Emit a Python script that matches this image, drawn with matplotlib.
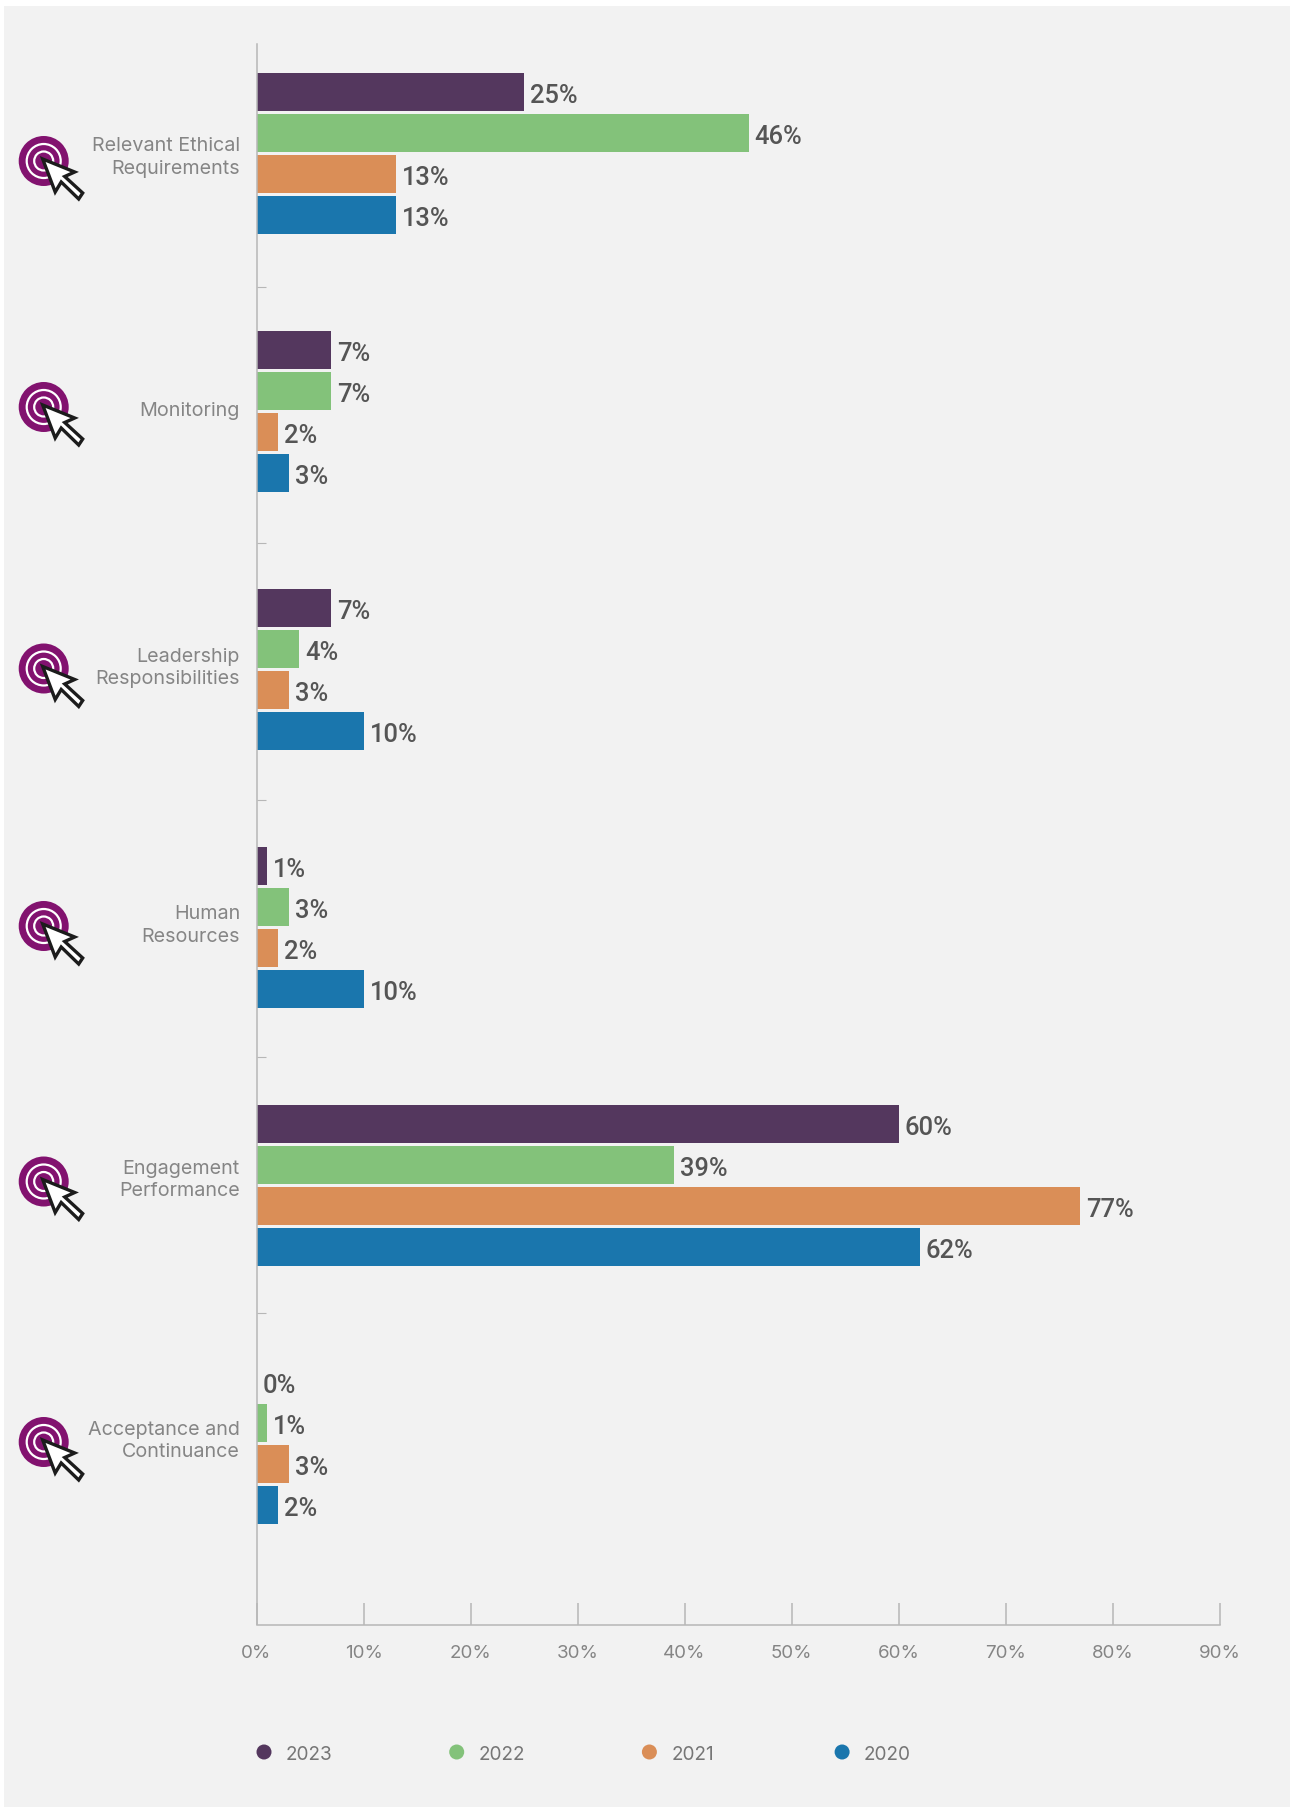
import matplotlib
matplotlib.use("Agg")
import matplotlib.pyplot as plt
from matplotlib.patches import Circle, Polygon, Rectangle

categories = ["Relevant Ethical\nRequirements", "Monitoring", "Leadership\nResponsibilities",
              "Human\nResources", "Engagement\nPerformance", "Acceptance and\nContinuance"]
years = ["2023", "2022", "2021", "2020"]
values_2023 = [25, 7, 7, 1, 60, 0]
values_2022 = [46, 7, 4, 3, 39, 1]
values_2021 = [13, 2, 3, 2, 77, 3]
values_2020 = [13, 3, 10, 10, 62, 2]
series = [values_2023, values_2022, values_2021, values_2020]
colors = ["#54375e", "#83c27a", "#da8e57", "#1a76ad"]
x_ticks = [0, 10, 20, 30, 40, 50, 60, 70, 80, 90]

W, H = 1290, 1807
AX_LEFT, AX_RIGHT, AX_TOP, AX_BOTTOM = 256.5, 1219.5, 44, 1624.5
FIRST_CENTER, GROUP_STEP = 154, 258
GREY = "#b7b7b7"
TEXT = "#858585"
px = 0.72  # one pixel in points at dpi=100

fig = plt.figure(figsize=(W / 100, H / 100), dpi=100, facecolor="white")

# pixel canvas for the panel, icons and legend
bg = fig.add_axes([0, 0, 1, 1])
bg.set_xlim(0, W)
bg.set_ylim(H, 0)
bg.axis("off")
bg.add_patch(Rectangle((4, 6), W - 4, H - 6, fc="#f2f2f2", ec="none"))

ax = fig.add_axes([AX_LEFT / W, 1 - AX_BOTTOM / H, (AX_RIGHT - AX_LEFT) / W, (AX_BOTTOM - AX_TOP) / H])
ax.patch.set_alpha(0)
ax.set_xlim(0, 90)
ax.set_ylim((AX_BOTTOM - FIRST_CENTER) / GROUP_STEP, (AX_TOP - FIRST_CENTER) / GROUP_STEP)

bar_h = 38 / GROUP_STEP
bar_step = 41 / GROUP_STEP
for i, vals in enumerate(series):
    ys = [c + (i - 1.5) * bar_step for c in range(len(categories))]
    ax.barh(ys, vals, height=bar_h, color=colors[i], linewidth=0, zorder=2)
    for y, v in zip(ys, vals):
        ax.annotate(f"{v}%", (v, y), xytext=(6 * px, -3.5 * px), textcoords="offset points",
                    ha="left", va="center", fontsize=18.4, family="Roboto", fontweight="medium",
                    color="#555555")

for s in ["top", "right"]:
    ax.spines[s].set_visible(False)
for s in ["left", "bottom"]:
    ax.spines[s].set_color(GREY)
    ax.spines[s].set_linewidth(1.1)

ax.set_xticks(x_ticks)
ax.set_xticklabels([f"{t}%" for t in x_ticks], fontsize=13.5, family="Inter", color=TEXT)
ax.tick_params(axis="x", direction="in", length=22 * px, width=1.1, color=GREY, pad=21 * px)

# the separators sit slightly tighter than the bar groups
ax.set_yticks([0.515 + k * 0.9944 for k in range(5)])
ax.set_yticklabels([])
ax.tick_params(axis="y", direction="in", length=9 * px, width=0.8, color=GREY)

label_nudge = [3.5, -1, -2, -2.5, -6, -3]
icon_nudge = [7, -5, -1.5, -2, -4.5, -2]
arrow = [(-1, -2), (31, 11), (21, 15.5), (39, 32), (35, 38), (17.5, 21), (11.5, 31)]

for k, name in enumerate(categories):
    cy = FIRST_CENTER + k * GROUP_STEP
    bg.text(240, cy + label_nudge[k], name, ha="right", va="center", fontsize=14.2,
            family="Inter", color=TEXT, linespacing=1.3)

    # target and cursor icon
    ix, iy = 43.7, cy + icon_nudge[k]
    bg.add_patch(Circle((ix, iy), 25, fc="#82126f", ec="none"))
    bg.add_patch(Circle((ix, iy), 17, fc="none", ec="white", lw=1.6))
    bg.add_patch(Circle((ix, iy), 9.5, fc="none", ec="white", lw=1.6))
    bg.add_patch(Polygon([(ix + a, iy + b) for a, b in arrow], closed=True, fc="white",
                         ec="#1c1c1c", lw=2.4, joinstyle="miter", zorder=3))

for i, year in enumerate(years):
    lx = 264 + i * 192.7
    bg.add_patch(Circle((lx, 1752), 7.5, fc=colors[i], ec="none"))
    bg.text(lx + 22, 1760, year, ha="left", va="baseline", fontsize=13.7, family="Inter", color="#767676")

fig.savefig("out.png", dpi=100)
